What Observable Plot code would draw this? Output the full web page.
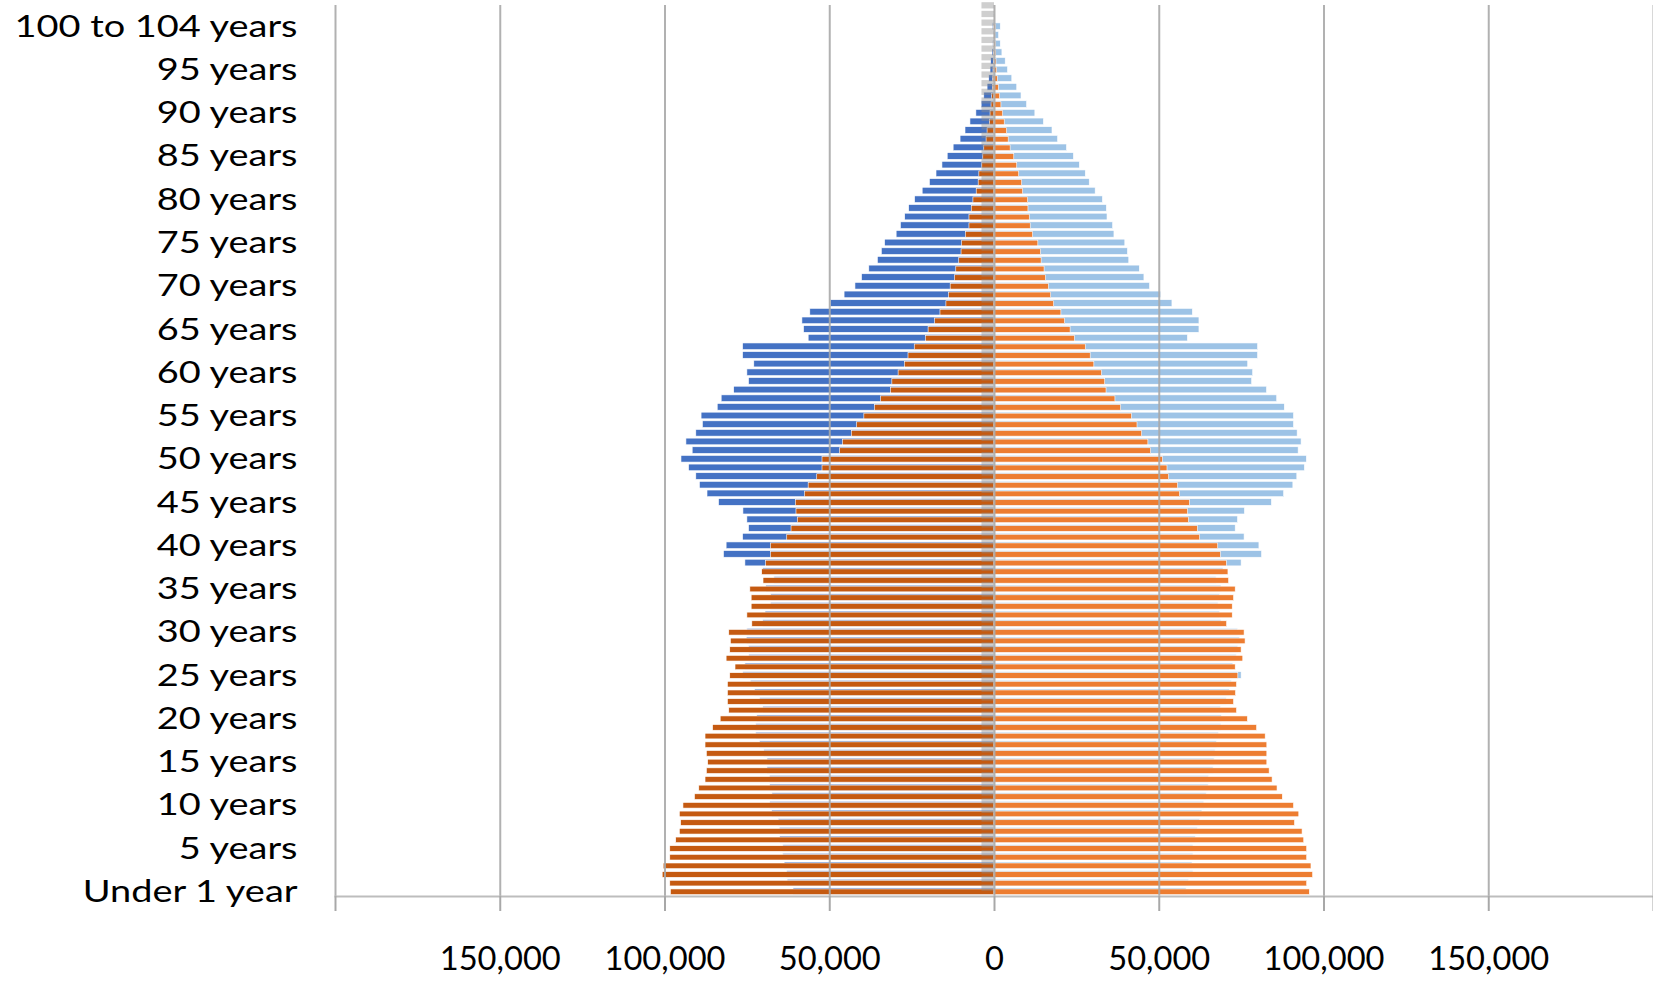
<!DOCTYPE html>
<html>
<head>
<meta charset="utf-8">
<script src="https://cdn.jsdelivr.net/npm/d3@7"></script>
<script src="https://cdn.jsdelivr.net/npm/@observablehq/plot@0.6"></script>
<style>
  html, body { margin: 0; padding: 0; background: #ffffff; }
  svg { display: block; }
</style>
</head>
<body>
<script>
// ---- categories (bottom to top) ----
const ageLabels = [
  "Under 1 year","1 year","2 years","3 years","4 years","5 years","6 years","7 years","8 years","9 years",
  "10 years","11 years","12 years","13 years","14 years","15 years","16 years","17 years","18 years","19 years",
  "20 years","21 years","22 years","23 years","24 years","25 years","26 years","27 years","28 years","29 years",
  "30 years","31 years","32 years","33 years","34 years","35 years","36 years","37 years","38 years","39 years",
  "40 years","41 years","42 years","43 years","44 years","45 years","46 years","47 years","48 years","49 years",
  "50 years","51 years","52 years","53 years","54 years","55 years","56 years","57 years","58 years","59 years",
  "60 years","61 years","62 years","63 years","64 years","65 years","66 years","67 years","68 years","69 years",
  "70 years","71 years","72 years","73 years","74 years","75 years","76 years","77 years","78 years","79 years",
  "80 years","81 years","82 years","83 years","84 years","85 years","86 years","87 years","88 years","89 years",
  "90 years","91 years","92 years","93 years","94 years","95 years","96 years","97 years","98 years","99 years",
  "100 to 104 years","105 to 109 years","110 years and over"
];

// ---- series values (persons), index = category above ----
const blueLeft = [
  61000,62800,63000,63700,64100,64100,65100,65200,65500,67500,
  68100,67400,68100,68200,68900,68900,69900,71200,72300,72300,
  72000,70200,71200,72700,74000,76300,75600,74500,74500,75200,
  75000,70200,69500,67900,67800,69300,66800,70200,75600,82100,
  81300,76300,74500,75000,76200,83600,87100,89400,90500,92700,
  95000,91600,93500,90500,88500,88900,84000,82800,79000,74500,
  75000,72900,76300,76300,56400,57800,58300,55900,49700,45500,
  42200,40200,38000,35400,34200,33200,29700,28400,27100,25900,
  24100,21800,19600,17600,15800,14200,12400,10300,8800,7300,
  5500,3900,3100,2100,1600,1200,1000,600,400,300,
  500,100,50
];
const blueRight = [
  58300,59000,60400,60100,60400,60400,61100,61700,62400,63100,
  63700,64400,65000,65100,66500,66800,67100,67500,68200,68900,
  69000,68700,70500,71400,72000,75000,72500,73500,74000,74500,
  73900,68900,68500,68000,68500,68900,67400,69500,75000,81200,
  80400,75900,73200,73900,76000,84200,87900,90700,91900,94200,
  94800,92300,93200,92000,90900,90900,88100,85800,82700,78200,
  78500,77000,80000,80000,58700,62200,62200,60200,54000,50600,
  47200,45500,44100,40900,40500,39700,36400,36000,34300,34100,
  32900,30700,28900,27700,25900,24100,22000,19300,17600,15000,
  12400,9900,8200,6900,5400,4100,3400,2400,1900,1400,
  1900,300,100
];
const orangeLeft = [
  98200,98400,100700,100400,98400,98400,96600,95500,95100,95500,
  94400,90900,89600,87700,87300,86900,87300,87700,87700,85400,
  83100,80500,80900,80900,80900,80200,78600,81300,80200,80000,
  80500,73500,75000,73700,73700,74100,70100,70500,69300,67800,
  67800,62900,61600,59700,60100,60300,57500,56400,53800,52200,
  52200,46900,46000,43300,41700,39500,36300,34400,31400,31000,
  29100,27200,26100,24200,20800,20000,18000,16400,14600,13800,
  13300,12000,11600,10700,10000,9800,8700,7600,7600,6900,
  6400,5400,4800,4600,3700,3400,3100,2400,2100,1400,
  1200,900,700,500,400,300,200,150,100,80,
  100,20,10
];
const orangeRight = [
  95700,94900,96700,96200,94900,94900,94000,93500,91200,92500,
  90900,87500,85900,84400,83500,82800,82800,82800,82300,79700,
  76900,73600,72700,73300,73600,74000,73200,75500,75000,76200,
  75900,70600,72300,72300,72700,73200,71200,71000,70500,68700,
  67900,62400,61700,59000,58700,59300,56300,55700,53000,52500,
  51100,47500,46700,44800,43400,41700,38400,36700,34000,33600,
  32600,30300,29200,27700,24400,23100,21400,20300,18100,17200,
  16500,15600,15200,14300,14100,13300,11700,11000,10700,10300,
  10200,8700,8400,7500,6900,6000,4900,4300,3800,3100,
  2600,2100,1700,1300,1000,800,600,500,400,300,
  400,100,50
];
const grayLeft = [
  3800,3800,3800,3800,3800,3800,3800,3800,3800,3800,
  3800,3800,3800,3800,3800,3800,3800,3800,3800,3800,
  3800,3800,3800,3800,3800,3800,3800,3800,3800,3800,
  3800,3800,3800,3800,3800,3800,3800,3800,3800,3800,
  3800,3800,3800,3800,3800,3800,3800,3800,3800,3800,
  3800,3800,3800,3800,3800,3800,3800,3800,3800,3800,
  3800,3800,3800,3800,3800,3800,3800,3800,3800,3800,
  3800,3800,3800,3800,3800,3800,3800,3800,3800,3800,
  3800,3800,3800,3800,3800,3800,3800,3800,3800,3800,
  3800,3800,3800,3800,3800,3800,3800,3800,3800,3800,
  3800,3800,3800
];

// ---- tick labels ----
const yTickLabels = [
  "Under 1 year","5 years","10 years","15 years","20 years","25 years","30 years","35 years",
  "40 years","45 years","50 years","55 years","60 years","65 years","70 years","75 years",
  "80 years","85 years","90 years","95 years","100 to 104 years"
];
const xTicks = [-200000,-150000,-100000,-50000,0,50000,100000,150000,200000];

// ---- build table ----
const rows = ageLabels.map((age, i) => ({
  age, bl: blueLeft[i], br: blueRight[i], ol: orangeLeft[i], or: orangeRight[i], g: grayLeft[i]
}));

const fmt = d3.format(",");
const gridColor = "#a8a8a8";

const chart = Plot.plot({
  width: 1653,
  height: 981,
  marginLeft: 335,
  marginRight: 0,
  marginTop: 5,
  marginBottom: 85,
  style: {fontFamily: "Lato, 'Open Sans', sans-serif", color: "#000", background: "#fff"},
  x: {domain: [-200000, 200000]},
  y: {domain: ageLabels.slice().reverse(), padding: 0},
  marks: [
    Plot.barX(rows, {x: d => -d.bl, y: "age", fill: "#4472C4", stroke: "#ffffff", strokeWidth: 0.6, insetTop: 0.6, insetBottom: 1.4}),
    Plot.barX(rows, {x: d => d.br, y: "age", fill: "#9DC3E6", stroke: "#ffffff", strokeWidth: 0.6, insetTop: 0.6, insetBottom: 1.4}),
    Plot.barX(rows, {x: d => -d.ol, y: "age", fill: "#C55A11", stroke: "#ffffff", strokeWidth: 0.6, insetTop: 1.6, insetBottom: 1.4}),
    Plot.barX(rows, {x: d => d.or, y: "age", fill: "#ED7D31", stroke: "#ffffff", strokeWidth: 0.6, insetTop: 1.6, insetBottom: 1.4}),
    Plot.barX(rows, {x: d => -d.g, y: "age", fill: "#8c8c8c", fillOpacity: 0.42, dy: -4, insetTop: 1.2, insetBottom: 1.2}),
    Plot.gridX({ticks: xTicks, stroke: gridColor, strokeOpacity: 0.9, strokeWidth: 2}),
    Plot.frame({anchor: "bottom", stroke: "#bdbdbd", strokeWidth: 2}),
    Plot.axisX({ticks: xTicks, tickSize: 15, tickPadding: 36, tickFormat: d => Math.abs(d) === 200000 ? "" : fmt(Math.abs(d)),
      stroke: gridColor, strokeWidth: 2, fill: "#000", fontSize: 32, label: null}),
    Plot.axisY({ticks: yTickLabels, tickSize: 0, tickPadding: 38, fill: "#000", fontSize: 30, label: null})
  ]
});

document.body.appendChild(chart);

// widen glyphs to match the reference lettering
function stretch(selector, sample, target) {
  const texts = Array.from(chart.querySelectorAll(selector));
  const ref = texts.find(t => t.textContent === sample);
  if (!ref) return;
  const k = target / ref.getComputedTextLength();
  texts.forEach(t => {
    const w = t.getComputedTextLength();
    if (w > 0) {
      t.setAttribute("textLength", w * k);
      t.setAttribute("lengthAdjust", "spacingAndGlyphs");
    }
  });
}
stretch('[aria-label="y-axis tick label"] text', "100 to 104 years", 283);
stretch('[aria-label="x-axis tick label"] text', "150,000", 121);
</script>
</body>
</html>
